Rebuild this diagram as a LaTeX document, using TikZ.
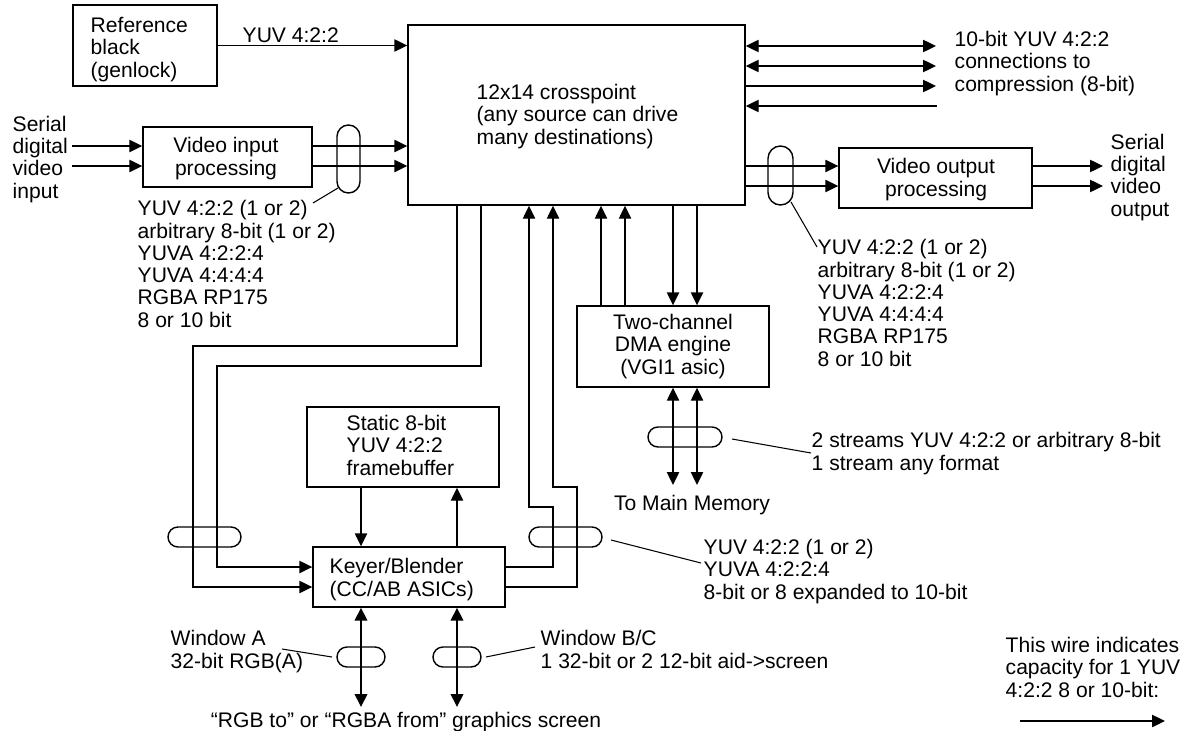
\documentclass[tikz,border=0pt]{standalone}
\usepackage{fontspec}
\setmainfont{Liberation Sans}
\usetikzlibrary{arrows.meta,fit}

\tikzset{
	block/.style={
		draw,
		inner sep = 0pt
	},
	bundle/.style={
		draw,
		inner sep = 0pt,
		rounded corners = #1
	},
	bundle/.default = 0.2cm,
	% multi-line texts are placed by the baseline of their last line
	lbl/.style={
		inner sep = 0pt,
		align = left,
		anchor = base west,
		font = \fontsize{12}{12.65}\selectfont
	},
	clbl/.style={
		lbl,
		align = center,
		anchor = base
	},
	fat/.style={line width = 1.6pt}
}

\begin{document}
\begin{tikzpicture}[
	x=0.02cm, y=-0.02cm,
	line width=0.8pt,
	>={Triangle[length=7.4pt,width=7pt]}
]
\useasboundingbox (0,0) rectangle (1199,730);

% blocks
\node[block, fit={(73,5) (217,86)}]     (refb) {};
\node[block, fit={(408,25) (745,205)}]  (xp)   {};
\node[block, fit={(143,127) (312,187)}] (vin)  {};
\node[block, fit={(839,148) (1032,208)}] (vout) {};
\node[block, fit={(577,306) (769,387)}] (dma)  {};
\node[block, fit={(307,407) (499,487)}] (fb)   {};
\node[block, fit={(313,547) (505,607)}] (key)  {};

% bundle marks
\node[bundle=0.23cm, fit={(337,125) (360,193)}] (inbun)  {};
\node[bundle=0.25cm, fit={(768,146) (793,205)}] (outbun) {};
\node[bundle, fit={(168,527) (241,547)}] (keyl)   {};
\node[bundle, fit={(529,527) (602,547)}] (keyr)   {};
\node[bundle, fit={(648,427) (722,447)}] (membun) {};
\node[bundle, fit={(337,647) (385,667)}] (wina)   {};
\node[bundle, fit={(433,647) (481,667)}] (winb)   {};

% texts
\node[lbl] at (90,77) {Reference\\black\\(genlock)};
\node[lbl] at (476,144) {12x14 crosspoint\\(any source can drive\\many destinations)};
\node[lbl] at (242,42) {YUV 4:2:2};
\node[lbl] at (954,91) {10-bit YUV 4:2:2\\connections to\\compression (8-bit)};
\node[lbl] at (12,198) {Serial\\digital\\video\\input};
\node[clbl] at (226,175) {Video input\\processing};
\node[lbl] at (137,327) {YUV 4:2:2 (1 or 2)\\arbitrary 8-bit (1 or 2)\\YUVA 4:2:2:4\\YUVA 4:4:4:4\\RGBA RP175\\8 or 10 bit};
\node[clbl] at (936,196) {Video output\\processing};
\node[lbl] at (1110,216) {Serial\\digital\\video\\output};
\node[lbl] at (817,366) {YUV 4:2:2 (1 or 2)\\arbitrary 8-bit (1 or 2)\\YUVA 4:2:2:4\\YUVA 4:4:4:4\\RGBA RP175\\8 or 10 bit};
\node[clbl] at (673,374) {Two-channel\\DMA engine\\(VGI1 asic)};
\node[lbl] at (346,475) {Static 8-bit\\YUV 4:2:2\\framebuffer};
\node[lbl] at (329,596) {Keyer/Blender\\(CC/AB ASICs)};
\node[clbl] at (692,510) {To Main Memory};
\node[lbl] at (811,470) {2 streams YUV 4:2:2 or arbitrary 8-bit\\1 stream any format};
\node[lbl] at (703,599) {YUV 4:2:2 (1 or 2)\\YUVA 4:2:2:4\\8-bit or 8 expanded to 10-bit};
\node[lbl] at (170,668) {Window A\\32-bit RGB(A)};
\node[lbl] at (540,668) {Window B/C\\1 32-bit or 2 12-bit aid->screen};
\node[clbl] at (406,727) {“RGB to” or “RGBA from” graphics screen};
\node[lbl] at (1005,697) {This wire indicates\\capacity for 1 YUV\\4:2:2 8 or 10-bit:};

% free ends
\coordinate (sdi1) at (72,146);
\coordinate (sdi2) at (72,166);
\coordinate (cmp1) at (936,46);
\coordinate (cmp2) at (936,66);
\coordinate (cmp3) at (936,86);
\coordinate (cmp4) at (937,106);
\coordinate (sdo1) at (1103,166);
\coordinate (sdo2) at (1103,186);
\coordinate (mem1) at (673,485);
\coordinate (mem2) at (697,485);
\coordinate (scr1) at (361,707);
\coordinate (scr2) at (457,707);

% input side
\draw[->] (refb.east) -- (refb.east -| xp.west);
\draw[->] (sdi1) -- (vin.west |- sdi1);
\draw[->] (sdi2) -- (vin.west |- sdi2);
\draw[->] (vin.east |- sdi1) -- (xp.west |- sdi1);
\draw[->] (vin.east |- sdi2) -- (xp.west |- sdi2);

% compression
\draw[<->] (xp.east |- cmp1) -- (cmp1);
\draw[<->] (xp.east |- cmp2) -- (cmp2);
\draw[->]  (xp.east |- cmp3) -- (cmp3);
\draw[<-]  (xp.east |- cmp4) -- (cmp4);

% output side
\draw[->] (xp.east |- sdo1) -- (vout.west |- sdo1);
\draw[->] (xp.east |- sdo2) -- (vout.west |- sdo2);
\draw[->] (vout.east |- sdo1) -- (sdo1);
\draw[->] (vout.east |- sdo2) -- (sdo2);

% crosspoint <-> keyer
\draw[->] (xp.south -| 457,0) |- (193,346) |- (key.west |- 0,587);
\draw[->] (xp.south -| 481,0) |- (217,366) |- (key.west |- 0,567);
\draw[->] (key.east |- 0,567) -| (553,507) -| (xp.south -| 529,0);
\draw[->] (key.east |- 0,587) -| (577,487) -| (xp.south -| 553,0);

% dma
\draw[->] (dma.north -| 601,0) -- (xp.south -| 601,0);
\draw[->] (dma.north -| 625,0) -- (xp.south -| 625,0);
\draw[->] (xp.south -| 673,0) -- (dma.north -| 673,0);
\draw[->] (xp.south -| 697,0) -- (dma.north -| 697,0);
\draw[<->] (dma.south -| mem1) -- (mem1);
\draw[<->] (dma.south -| mem2) -- (mem2);

% framebuffer and screen
\draw[->] (fb.south -| 361,0) -- (key.north -| 361,0);
\draw[->] (key.north -| 457,0) -- (fb.south -| 457,0);
\draw[<->,fat] (key.south -| scr1) -- (scr1);
\draw[<->,fat] (key.south -| scr2) -- (scr2);

% leaders
\draw[line width=0.6pt] (338,188) -- (313,203);
\draw[line width=0.6pt] (791,202) -- (817,247);
\draw[line width=0.6pt] (732,439) -- (811,453);
\draw[line width=0.6pt] (611,540) -- (701,563);
\draw[line width=0.6pt] (332,657) -- (282,649);
\draw[line width=0.6pt] (486,657) -- (535,647);

% legend
\draw[->] (1020,721) -- (1165,721);

\end{tikzpicture}
\end{document}
